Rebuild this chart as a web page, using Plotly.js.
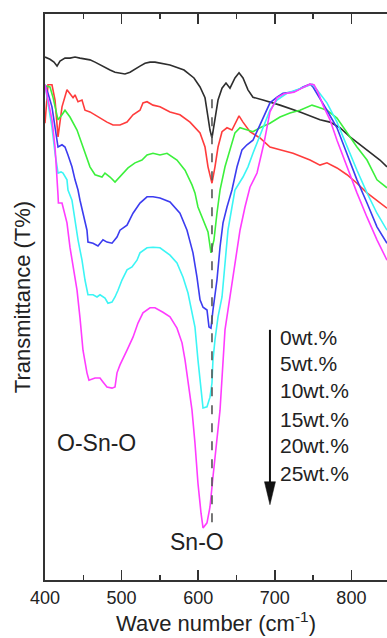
<!DOCTYPE html>
<html>
<head>
<meta charset="utf-8">
<script src="https://cdn.plot.ly/plotly-3.0.1.min.js"></script>
<style>
  html, body { margin: 0; padding: 0; background: #ffffff; }
  #chart { width: 387px; height: 638px; }
</style>
</head>
<body>
<div id="chart"></div>
<script>
// ---- Data (wave number in cm^-1, transmittance in arbitrary % units) ----
var seriesLabels = ['0wt.%', '5wt.%', '10wt.%', '15wt.%', '20wt.%', '25wt.%'];

var wn0 = [400, 406.5, 411.7, 415.7, 419.6, 426.1, 432.6, 439.2, 445.7, 452.2, 458.7, 465.3, 471.8, 478.3, 484.9, 491.4, 497.9, 504.4, 511.0, 517.5, 524.0, 530.6, 537.1, 543.6, 550.1, 563.2, 581.5, 594.5, 602.4, 608.9, 612.8, 615.4, 618.0, 621.9, 625.9, 631.1, 636.3, 641.5, 648.0, 653.3, 658.5, 665.0, 671.5, 684.6, 706.8, 732.9, 759.0, 772.1, 785.1, 798.2, 811.2, 824.3, 837.3, 846.5];
var t0  = [92.4, 92.0, 91.5, 90.8, 91.7, 92.2, 92.2, 92.4, 92.2, 92.0, 91.9, 91.5, 91.0, 90.6, 90.1, 89.7, 89.6, 89.4, 89.7, 90.3, 90.8, 91.3, 91.5, 91.5, 91.3, 91.0, 90.1, 88.7, 87.1, 85.2, 81.8, 79.5, 78.1, 81.3, 84.8, 86.9, 87.8, 86.9, 88.7, 89.6, 88.7, 86.6, 85.3, 84.8, 83.9, 82.7, 81.3, 80.9, 79.9, 78.3, 76.9, 75.6, 74.2, 73.0];

var wn5 = [400, 402.6, 403.9, 409.1, 413.1, 417.0, 422.2, 428.7, 432.6, 436.6, 439.2, 443.1, 448.3, 452.2, 458.7, 469.2, 480.9, 488.8, 497.9, 507.1, 514.9, 524.0, 527.9, 533.2, 541.0, 550.1, 563.2, 576.2, 589.3, 602.4, 608.9, 612.8, 618.0, 621.9, 625.9, 631.1, 637.6, 644.1, 653.3, 658.5, 667.6, 680.7, 693.7, 706.8, 723.8, 746.0, 759.0, 768.1, 781.2, 794.3, 807.3, 820.4, 833.4, 846.5];
var t5  = [80.7, 86.6, 87.5, 87.5, 84.8, 78.3, 83.6, 86.6, 86.0, 85.2, 85.7, 84.5, 84.8, 83.0, 82.7, 81.8, 80.9, 80.4, 80.4, 80.9, 82.2, 83.0, 84.3, 84.5, 83.9, 83.6, 82.7, 82.2, 80.9, 79.0, 76.5, 73.0, 70.1, 73.0, 76.5, 79.2, 79.9, 79.5, 82.0, 80.9, 79.2, 78.1, 76.5, 76.0, 75.4, 74.2, 73.3, 73.7, 72.8, 71.6, 70.1, 68.4, 67.1, 65.7];

var wn10 = [400, 406.5, 410.4, 417.0, 422.2, 426.1, 432.6, 441.8, 449.6, 458.7, 465.3, 474.4, 478.3, 484.9, 491.4, 500.5, 508.4, 517.5, 526.6, 533.2, 541.0, 550.1, 559.3, 572.3, 582.8, 591.9, 595.8, 599.7, 606.3, 612.8, 616.7, 620.6, 624.5, 628.5, 635.0, 641.5, 648.0, 654.6, 663.7, 671.5, 680.7, 693.7, 706.8, 719.8, 732.9, 742.0, 748.6, 755.1, 768.1, 781.2, 794.3, 807.3, 820.4, 833.4, 846.5];
var t10  = [87.3, 87.1, 85.3, 81.3, 82.2, 83.0, 81.8, 79.5, 76.5, 73.0, 71.6, 71.2, 71.9, 71.2, 70.3, 71.6, 72.8, 73.7, 74.2, 75.1, 75.4, 75.1, 75.4, 74.2, 72.4, 69.8, 68.4, 65.9, 63.6, 61.5, 57.8, 60.1, 64.8, 68.9, 73.0, 76.0, 79.0, 79.9, 79.5, 79.2, 79.9, 80.7, 81.8, 82.5, 83.0, 83.6, 83.9, 83.6, 83.0, 81.6, 79.0, 76.5, 74.2, 70.7, 69.3];

var wn15 = [400, 403.9, 409.1, 413.1, 417.0, 422.2, 426.1, 430.0, 435.2, 439.2, 443.1, 445.7, 449.6, 454.8, 456.1, 462.7, 469.2, 475.7, 480.9, 487.5, 494.0, 497.9, 507.1, 514.9, 524.0, 533.2, 541.0, 550.1, 563.2, 576.2, 585.4, 593.2, 598.4, 602.4, 606.3, 611.5, 614.1, 616.7, 619.3, 624.5, 628.5, 632.4, 637.6, 644.1, 650.7, 657.2, 663.7, 671.5, 680.7, 687.2, 693.7, 702.9, 710.7, 722.5, 730.3, 736.8, 746.0, 749.9, 756.4, 768.1, 781.2, 794.3, 807.3, 820.4, 833.4, 846.5];
var t15  = [87.5, 86.0, 83.6, 80.0, 76.5, 76.9, 76.5, 75.1, 73.0, 70.7, 68.9, 67.1, 64.8, 61.8, 59.7, 59.5, 59.0, 60.1, 59.7, 59.5, 60.6, 61.8, 62.7, 64.8, 66.6, 67.7, 67.7, 67.5, 66.8, 64.8, 61.8, 57.8, 53.5, 49.5, 48.2, 47.7, 44.7, 44.5, 47.7, 53.0, 58.8, 63.1, 65.9, 68.9, 73.0, 76.0, 76.9, 77.7, 80.4, 82.5, 84.3, 85.3, 86.0, 86.2, 86.6, 87.1, 87.6, 87.1, 85.7, 83.0, 79.9, 75.4, 70.7, 66.6, 62.4, 59.5];

var wn20 = [400, 403.9, 409.1, 413.1, 417.0, 420.9, 423.5, 428.7, 430.0, 435.2, 439.2, 443.1, 448.3, 452.2, 456.1, 462.7, 467.9, 471.8, 478.3, 482.2, 487.5, 491.4, 495.3, 500.5, 507.1, 513.6, 520.1, 524.0, 533.2, 541.0, 550.1, 563.2, 572.3, 580.2, 586.7, 591.9, 595.8, 599.7, 605.0, 606.3, 611.5, 615.4, 618.0, 619.3, 621.9, 625.9, 631.1, 635.0, 638.9, 644.1, 648.0, 658.5, 665.0, 671.5, 678.1, 687.2, 693.7, 702.9, 715.9, 729.0, 742.0, 748.6, 755.1, 768.1, 781.2, 794.3, 807.3, 820.4, 833.4, 846.5];
var t20  = [87.5, 84.3, 80.0, 75.4, 71.9, 72.1, 71.9, 70.7, 68.9, 67.1, 63.6, 60.1, 56.5, 53.0, 50.4, 50.4, 50.0, 50.4, 49.8, 48.9, 49.1, 50.0, 51.2, 53.0, 54.8, 55.3, 56.5, 57.8, 58.7, 58.8, 58.7, 57.4, 56.0, 53.5, 50.7, 47.2, 44.7, 38.9, 32.3, 30.4, 30.6, 32.3, 34.8, 38.9, 42.4, 46.5, 50.0, 56.0, 61.8, 65.9, 68.9, 71.2, 73.0, 75.4, 77.7, 80.7, 83.0, 84.8, 86.0, 86.6, 87.3, 87.6, 86.6, 84.3, 80.9, 76.5, 72.4, 68.4, 64.8, 61.8];

var wn25 = [400, 403.9, 409.1, 413.1, 415.7, 417.0, 417.5, 422.2, 423.5, 428.7, 432.6, 436.6, 441.8, 445.7, 449.6, 454.8, 457.4, 465.3, 471.8, 475.7, 480.9, 487.5, 491.4, 494.0, 497.9, 507.1, 514.9, 521.4, 527.9, 537.1, 543.6, 554.0, 563.2, 572.3, 578.9, 582.8, 586.7, 591.9, 595.8, 599.7, 603.7, 606.3, 611.5, 615.4, 619.3, 624.5, 628.5, 635.0, 641.5, 648.0, 654.6, 661.1, 667.6, 676.8, 685.9, 693.7, 702.9, 712.0, 725.1, 735.5, 746.0, 751.2, 756.4, 762.9, 772.1, 781.2, 794.3, 807.3, 820.4, 833.4, 846.5];
var t25  = [87.5, 84.8, 81.3, 76.5, 71.9, 68.0, 66.6, 66.6, 65.9, 63.1, 58.8, 55.3, 51.2, 46.3, 40.6, 36.6, 35.3, 35.7, 35.7, 35.0, 34.1, 33.9, 34.1, 36.6, 38.0, 40.6, 42.9, 45.4, 47.2, 48.1, 48.1, 47.3, 46.5, 44.5, 41.9, 38.9, 35.3, 30.0, 24.2, 17.1, 11.8, 9.2, 10.1, 12.9, 18.2, 24.7, 30.0, 44.2, 50.0, 56.0, 61.8, 65.9, 69.4, 71.9, 77.2, 82.7, 85.2, 85.9, 86.2, 86.9, 87.6, 87.5, 86.2, 83.9, 81.3, 77.7, 73.0, 68.4, 64.1, 60.1, 56.5];

// Sn-O reference line (wave number of the Sn-O band)
var snOBand = 618;
var snOLineT = [10.2, 86.0];

// Tick values
var xTickVals = [400, 500, 600, 700, 800];
var xTickText = ['400', '500', '600', '700', '800'];

// Annotation anchors (data units)
var legendX = 703.8;
var legendT = [42.9, 38.2, 33.4, 28.4, 23.7, 18.9];
var arrowX = 693.7;
var arrowTailT = 44.2;
var arrowBaseT = 17.3;
var arrowTipT = 13.3;
var bandLabels = [
  {text: 'O-Sn-O', x: 413, y: 24.2, anchor: 'left'},
  {text: 'Sn-O', x: 598.4, y: 6.7, anchor: 'center'}
];

// ---- Styles ----
var colors = ['#2e2e2e', '#ff3c3c', '#3cf03c', '#3c3cf0', '#3cf5f5', '#ff3cff'];
var FONT = '"Liberation Sans", Arial, Helvetica, sans-serif';
var INK = '#222222';
var AXIS = '#333333';

var xs = [wn0, wn5, wn10, wn15, wn20, wn25];
var ys = [t0, t5, t10, t15, t20, t25];

var traces = xs.map(function (x, i) {
  return {
    x: x, y: ys[i], type: 'scatter', mode: 'lines', name: seriesLabels[i],
    line: {color: colors[i], width: 1.6, shape: 'linear'},
    hoverinfo: 'skip'
  };
});
traces.push({
  x: [snOBand, snOBand], y: snOLineT, type: 'scatter', mode: 'lines',
  line: {color: '#555555', width: 1.6, dash: 'dash'}, hoverinfo: 'skip'
});

var annotations = seriesLabels.map(function (lab, i) {
  return {
    text: lab, x: legendX, y: legendT[i], xref: 'x', yref: 'y',
    xanchor: 'left', yanchor: 'middle', showarrow: false,
    font: {family: FONT, size: 21, color: INK}
  };
});
bandLabels.forEach(function (b) {
  annotations.push({
    text: b.text, x: b.x, y: b.y, xref: 'x', yref: 'y',
    xanchor: b.anchor, yanchor: 'middle', showarrow: false,
    font: {family: FONT, size: 23, color: INK}
  });
});

var shapes = [
  {type: 'line', xref: 'x', yref: 'y', x0: arrowX, x1: arrowX, y0: arrowTailT, y1: arrowBaseT,
   line: {color: '#111111', width: 2}},
  {type: 'path', xref: 'x', yref: 'y', xsizemode: 'pixel', ysizemode: 'pixel',
   xanchor: arrowX, yanchor: arrowTipT,
   path: 'M0,0 L-5.5,23 L5.5,23 Z', fillcolor: '#111111', line: {color: '#111111', width: 0.5}}
];

var layout = {
  width: 387, height: 638,
  margin: {l: 45, r: 0, t: 14, b: 58, pad: 0},
  paper_bgcolor: '#ffffff', plot_bgcolor: '#ffffff',
  showlegend: false,
  font: {family: FONT, color: INK},
  xaxis: {
    range: [400, 846.5], tickmode: 'array', tickvals: xTickVals, ticktext: xTickText,
    ticks: 'inside', ticklen: 10, tickwidth: 1.6, tickcolor: AXIS,
    minor: {dtick: 50, tick0: 400, ticks: 'inside', ticklen: 5, tickwidth: 1.6, tickcolor: AXIS},
    showline: true, linecolor: AXIS, linewidth: 2, mirror: 'ticks',
    showgrid: false, zeroline: false,
    tickfont: {family: FONT, size: 18, color: INK},
    title: {text: 'Wave number (cm<sup>-1</sup>)', font: {family: FONT, size: 22, color: INK}, standoff: 8}
  },
  yaxis: {
    range: [0, 100], showticklabels: false, ticks: '',
    showline: true, linecolor: AXIS, linewidth: 2,
    showgrid: false, zeroline: false,
    title: {text: 'Transmittance (T%)', font: {family: FONT, size: 22, color: INK}, standoff: 6}
  },
  annotations: annotations,
  shapes: shapes
};

Plotly.newPlot('chart', traces, layout, {staticPlot: true, displayModeBar: false});
</script>
</body>
</html>
